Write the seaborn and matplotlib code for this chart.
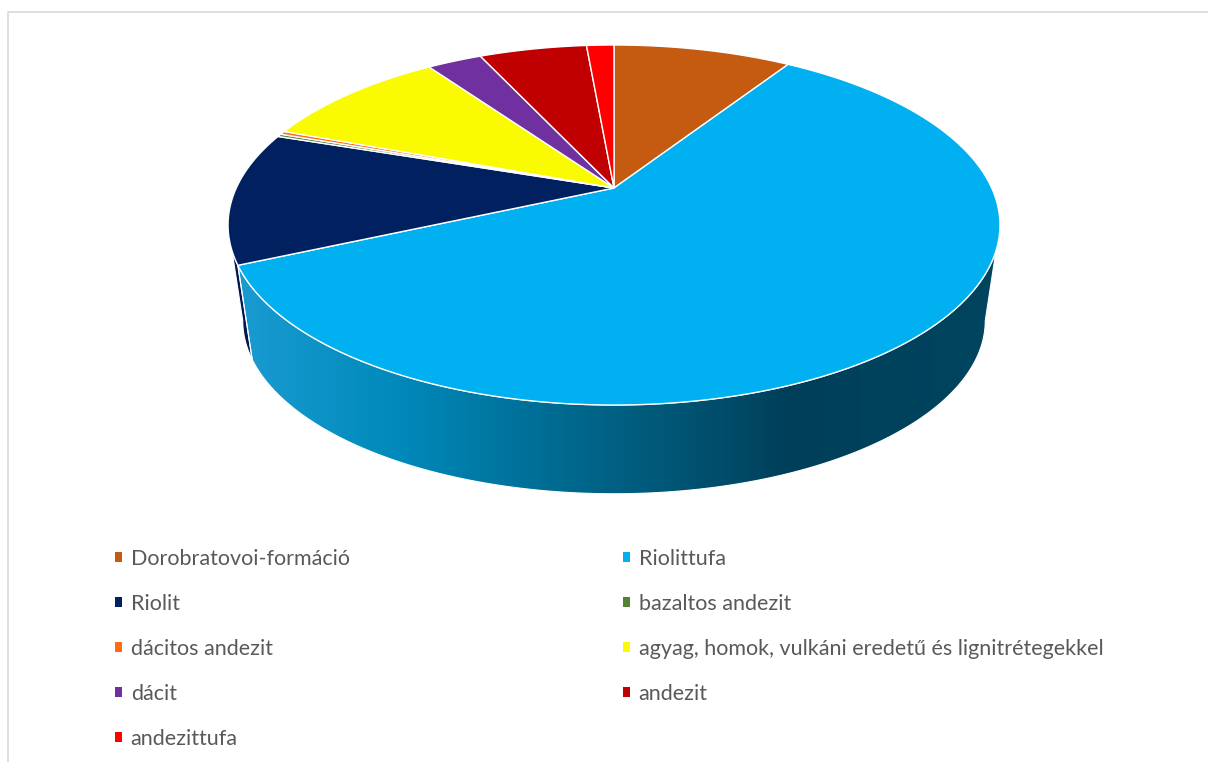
import numpy as np
import matplotlib
matplotlib.use("Agg")
import matplotlib.pyplot as plt
import seaborn as sns
from matplotlib.patches import Polygon, Patch
from matplotlib.colors import LinearSegmentedColormap

# ---------------- data ----------------
categories = ["Dorobratovoi-formáció", "Riolittufa", "Riolit", "bazaltos andezit",
              "dácitos andezit", "agyag, homok, vulkáni eredetű és lignitrétegekkel",
              "dácit", "andezit", "andezittufa"]
shares = [9.1, 59.2, 11.9, 0.25, 0.3, 9.6, 2.8, 5.5, 1.4]
top_colors = ["#C55A11", "#00B0F0", "#002060", "#548235", "#FF6A13",
              "#FAFA00", "#7030A0", "#C00000", "#FF0000"]
side_colors = ["#8A3F0C", "#0090C8", "#001850", "#3B5B25", "#B34A0D",
               "#AFAF00", "#4E2270", "#860000", "#B30000"]
# gradient of the large slice's side wall (screen-x position, colour)
grad_x = [232, 400, 560, 700, 790, 1005]
grad_c = ["#1A9CD2", "#0089BA", "#006A90", "#00516F", "#003F5A", "#00455F"]

sns.set_theme(style="white")
plt.rcParams['font.family'] = ['Lato', 'DejaVu Sans']

W, H = 1208, 762
fig = plt.figure(figsize=(W / 100, H / 100), dpi=100)
ax = fig.add_axes([0, 0, 1, 1])
ax.set_xlim(0, W)
ax.set_ylim(H, 0)
ax.axis('off')

# ---------------- perspective pie geometry ----------------
CX, CY = 614, 188
A, B, K = 377.7, 172.4, 0.2056
S, D = 0.962, 97.0


def project(theta_deg, bottom=False):
    t = np.radians(theta_deg)
    x = np.sin(t)
    yd = -np.cos(t)
    den = 1 - K * yd
    s = S if bottom else 1.0
    dy = D if bottom else 0.0
    return np.column_stack([CX + s * A * x / den, CY + dy + s * B * yd / den])


vals = np.array(shares, dtype=float)
cum = np.concatenate([[0], np.cumsum(vals)]) / vals.sum() * 360.0
vis_lo = 90 + np.degrees(np.arcsin(K))
vis_hi = 360 - vis_lo

# side walls
for i in range(len(vals)):
    a1, a2 = max(cum[i], vis_lo), min(cum[i + 1], vis_hi)
    if a2 <= a1:
        continue
    th = np.linspace(a1, a2, 200)
    pts = np.vstack([project(th), project(th[::-1], bottom=True)])
    if i == 1:
        poly = Polygon(pts, closed=True, facecolor='none', edgecolor='white', lw=0.8, zorder=2)
        ax.add_patch(poly)
        cmap = LinearSegmentedColormap.from_list(
            "side", [((x - grad_x[0]) / (grad_x[-1] - grad_x[0]), c) for x, c in zip(grad_x, grad_c)])
        grad = np.linspace(0, 1, 512)[np.newaxis, :]
        im = ax.imshow(grad, cmap=cmap, aspect='auto', extent=[grad_x[0], grad_x[-1], 520, 150],
                       zorder=1, interpolation='bilinear')
        im.set_clip_path(poly)
    else:
        ax.add_patch(Polygon(pts, closed=True, facecolor=side_colors[i], edgecolor='white',
                             lw=0.8, zorder=1.5))

# top faces
for i in range(len(vals)):
    th = np.linspace(cum[i], cum[i + 1], max(int((cum[i + 1] - cum[i]) * 3), 4))
    pts = np.vstack([[CX, CY], project(th)])
    ax.add_patch(Polygon(pts, closed=True, facecolor=top_colors[i], edgecolor='white',
                         lw=1.0, zorder=3))

ax.set_xlim(0, W)
ax.set_ylim(H, 0)

# chart-area border
ax.plot([7.5, 7.5, W + 5], [H + 5, 11.5, 11.5], color="#D9D9D9", lw=1.2, zorder=0,
        solid_capstyle='butt')

# ---------------- legend (two columns, row-major order) ----------------
handles = [Patch(facecolor=c, edgecolor='none') for c in top_colors]
common = dict(frameon=False, fontsize=15.5, handlelength=0.33, handleheight=0.33,
              handletextpad=0.4, labelspacing=1.16, borderpad=0, borderaxespad=0,
              labelcolor="#595959", loc='upper left')
col1 = list(range(0, len(categories), 2))
col2 = list(range(1, len(categories), 2))
leg1 = fig.legend([handles[i] for i in col1], [categories[i] for i in col1],
                  bbox_to_anchor=(115 / W, 1 - 549 / H), **common)
leg2 = fig.legend([handles[i] for i in col2], [categories[i] for i in col2],
                  bbox_to_anchor=(623 / W, 1 - 549 / H), **common)

fig.savefig("out.png", dpi=100, facecolor="white")
